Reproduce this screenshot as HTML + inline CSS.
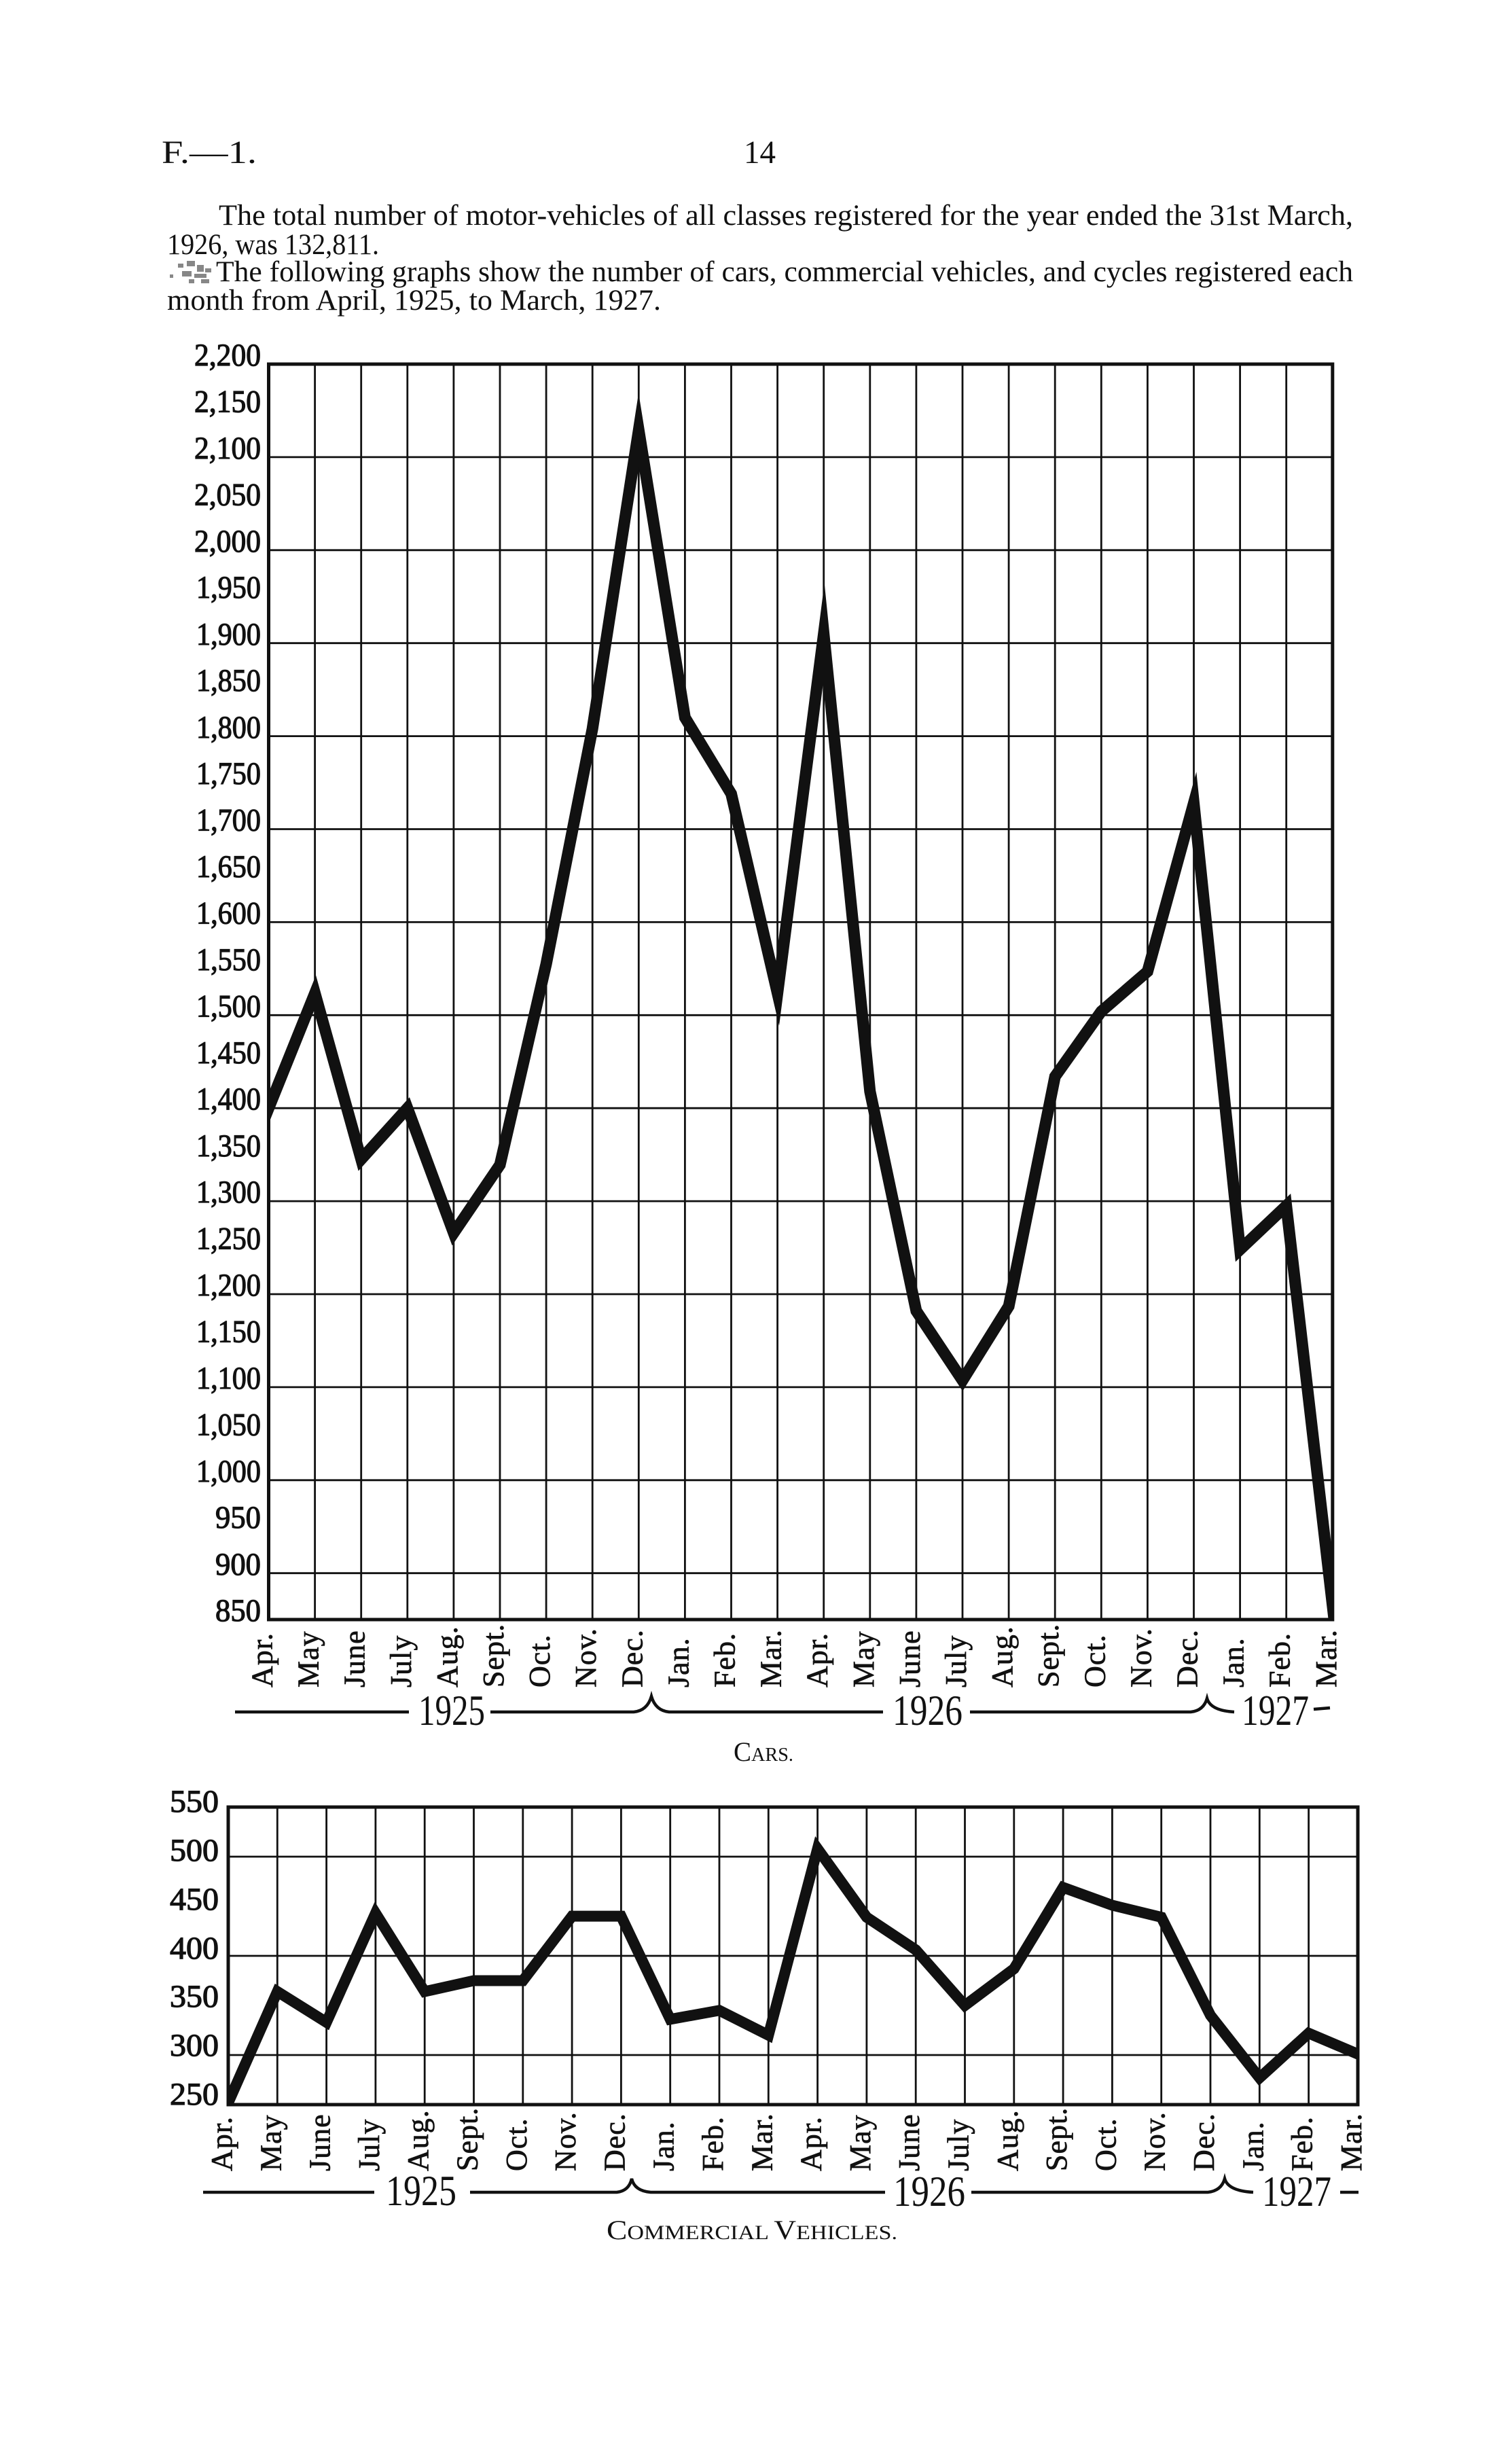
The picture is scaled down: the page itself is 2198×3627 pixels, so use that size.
<!DOCTYPE html>
<html>
<head>
<meta charset="utf-8">
<style>
html,body{margin:0;padding:0;background:#fff;}
svg{display:block;}
text{font-family:"Liberation Serif","DejaVu Serif",serif;fill:#111;}
</style>
</head>
<body>
<svg xmlns="http://www.w3.org/2000/svg" width="2198" height="3627" viewBox="0 0 2198 3627">
<rect x="0" y="0" width="2198" height="3627" fill="#fff"/>
<defs>
<clipPath id="cc"><rect x="395.5" y="536" width="1566.3" height="1848"/></clipPath>
<clipPath id="cv"><rect x="336" y="2660" width="1663" height="438"/></clipPath>
</defs>

<!-- Header -->
<text x="238" y="240" font-size="48" textLength="140" lengthAdjust="spacingAndGlyphs">F.—1.</text>
<text x="1095" y="240" font-size="48" textLength="47" lengthAdjust="spacingAndGlyphs">14</text>

<!-- Paragraph -->
<text x="322" y="331" font-size="43" textLength="1670" lengthAdjust="spacingAndGlyphs">The total number of motor-vehicles of all classes registered for the year ended the 31st March,</text>
<text x="246" y="374" font-size="43" textLength="312" lengthAdjust="spacingAndGlyphs">1926, was 132,811.</text>
<g fill="#555" opacity="0.7">
<rect x="262" y="388" width="8" height="6"/><rect x="275" y="384" width="12" height="8"/><rect x="290" y="390" width="10" height="10"/>
<rect x="268" y="399" width="14" height="8"/><rect x="286" y="403" width="18" height="6"/><rect x="296" y="411" width="12" height="6"/>
<rect x="250" y="404" width="5" height="5"/><rect x="278" y="411" width="8" height="6"/><rect x="302" y="395" width="9" height="6"/>
</g>
<text x="318" y="414" font-size="43" textLength="1674" lengthAdjust="spacingAndGlyphs">The following graphs show the number of cars, commercial vehicles, and cycles registered each</text>
<text x="246" y="456" font-size="43" textLength="727" lengthAdjust="spacingAndGlyphs">month from April, 1925, to March, 1927.</text>

<!-- ================= CARS CHART ================= -->
<g stroke="#111" stroke-width="2.8" fill="none">
<path d="M395.5,672.9H1961.8M395.5,809.8H1961.8M395.5,946.7H1961.8M395.5,1083.6H1961.8M395.5,1220.5H1961.8M395.5,1357.4H1961.8M395.5,1494.3H1961.8M395.5,1631.2H1961.8M395.5,1768.1H1961.8M395.5,1905H1961.8M395.5,2041.9H1961.8M395.5,2178.8H1961.8M395.5,2315.7H1961.8"/>
<path d="M463.6,536V2384M531.7,536V2384M599.8,536V2384M667.9,536V2384M736,536V2384M804.1,536V2384M872.2,536V2384M940.3,536V2384M1008.4,536V2384M1076.5,536V2384M1144.6,536V2384M1212.7,536V2384M1280.8,536V2384M1348.9,536V2384M1417,536V2384M1485.1,536V2384M1553.2,536V2384M1621.3,536V2384M1689.4,536V2384M1757.5,536V2384M1825.6,536V2384M1893.7,536V2384"/>
</g>
<rect x="395.5" y="536" width="1566.3" height="1848" fill="none" stroke="#111" stroke-width="5"/>
<g clip-path="url(#cc)">
<polyline fill="none" stroke="#111" stroke-width="17" stroke-linejoin="miter" stroke-miterlimit="20"
points="380,1670 395.5,1631.2 463.6,1462 531.7,1706.5 599.8,1631.2 667.9,1815 736,1714.7 804.1,1419 872.2,1072.6 940.3,633 1008.4,1056.2 1076.5,1168.5 1144.6,1462 1212.7,933 1280.8,1606.6 1348.9,1929.6 1417,2032 1485.1,1922.8 1553.2,1584.7 1621.3,1488.8 1689.4,1430 1757.5,1182 1825.6,1839.3 1893.7,1774.9 1961.8,2363.6 1975,2477"/>
</g>

<!-- Cars Y labels -->
<g font-size="47" text-anchor="end" stroke="#111" stroke-width="1.2">
<text x="384" y="538" textLength="98" lengthAdjust="spacingAndGlyphs">2,200</text>
<text x="384" y="606.5" textLength="98" lengthAdjust="spacingAndGlyphs">2,150</text>
<text x="384" y="675" textLength="98" lengthAdjust="spacingAndGlyphs">2,100</text>
<text x="384" y="743.5" textLength="98" lengthAdjust="spacingAndGlyphs">2,050</text>
<text x="384" y="812" textLength="98" lengthAdjust="spacingAndGlyphs">2,000</text>
<text x="384" y="880" textLength="95" lengthAdjust="spacingAndGlyphs">1,950</text>
<text x="384" y="949" textLength="95" lengthAdjust="spacingAndGlyphs">1,900</text>
<text x="384" y="1017" textLength="95" lengthAdjust="spacingAndGlyphs">1,850</text>
<text x="384" y="1086" textLength="95" lengthAdjust="spacingAndGlyphs">1,800</text>
<text x="384" y="1154" textLength="95" lengthAdjust="spacingAndGlyphs">1,750</text>
<text x="384" y="1222.5" textLength="95" lengthAdjust="spacingAndGlyphs">1,700</text>
<text x="384" y="1291" textLength="95" lengthAdjust="spacingAndGlyphs">1,650</text>
<text x="384" y="1359.5" textLength="95" lengthAdjust="spacingAndGlyphs">1,600</text>
<text x="384" y="1428" textLength="95" lengthAdjust="spacingAndGlyphs">1,550</text>
<text x="384" y="1496.5" textLength="95" lengthAdjust="spacingAndGlyphs">1,500</text>
<text x="384" y="1565" textLength="95" lengthAdjust="spacingAndGlyphs">1,450</text>
<text x="384" y="1633" textLength="95" lengthAdjust="spacingAndGlyphs">1,400</text>
<text x="384" y="1702" textLength="95" lengthAdjust="spacingAndGlyphs">1,350</text>
<text x="384" y="1770" textLength="95" lengthAdjust="spacingAndGlyphs">1,300</text>
<text x="384" y="1838.5" textLength="95" lengthAdjust="spacingAndGlyphs">1,250</text>
<text x="384" y="1907" textLength="95" lengthAdjust="spacingAndGlyphs">1,200</text>
<text x="384" y="1975.5" textLength="95" lengthAdjust="spacingAndGlyphs">1,150</text>
<text x="384" y="2044" textLength="95" lengthAdjust="spacingAndGlyphs">1,100</text>
<text x="384" y="2112.5" textLength="95" lengthAdjust="spacingAndGlyphs">1,050</text>
<text x="384" y="2181" textLength="95" lengthAdjust="spacingAndGlyphs">1,000</text>
<text x="384" y="2249" textLength="67" lengthAdjust="spacingAndGlyphs">950</text>
<text x="384" y="2318" textLength="67" lengthAdjust="spacingAndGlyphs">900</text>
<text x="384" y="2386" textLength="67" lengthAdjust="spacingAndGlyphs">850</text>
</g>

<!-- Cars month labels -->
<g font-size="44" letter-spacing="1" stroke="#111" stroke-width="0.7">
<text transform="translate(400.5,2484) rotate(-90)">Apr.</text>
<text transform="translate(468.6,2484) rotate(-90)">May</text>
<text transform="translate(536.7,2484) rotate(-90)">June</text>
<text transform="translate(604.8,2484) rotate(-90)">July</text>
<text transform="translate(672.9,2484) rotate(-90)">Aug.</text>
<text transform="translate(741,2484) rotate(-90)">Sept.</text>
<text transform="translate(809.1,2484) rotate(-90)">Oct.</text>
<text transform="translate(877.2,2484) rotate(-90)">Nov.</text>
<text transform="translate(945.3,2484) rotate(-90)">Dec.</text>
<text transform="translate(1013.4,2484) rotate(-90)">Jan.</text>
<text transform="translate(1081.5,2484) rotate(-90)">Feb.</text>
<text transform="translate(1149.6,2484) rotate(-90)">Mar.</text>
<text transform="translate(1217.7,2484) rotate(-90)">Apr.</text>
<text transform="translate(1285.8,2484) rotate(-90)">May</text>
<text transform="translate(1353.9,2484) rotate(-90)">June</text>
<text transform="translate(1422,2484) rotate(-90)">July</text>
<text transform="translate(1490.1,2484) rotate(-90)">Aug.</text>
<text transform="translate(1558.2,2484) rotate(-90)">Sept.</text>
<text transform="translate(1626.3,2484) rotate(-90)">Oct.</text>
<text transform="translate(1694.4,2484) rotate(-90)">Nov.</text>
<text transform="translate(1762.5,2484) rotate(-90)">Dec.</text>
<text transform="translate(1830.6,2484) rotate(-90)">Jan.</text>
<text transform="translate(1898.7,2484) rotate(-90)">Feb.</text>
<text transform="translate(1966.8,2484) rotate(-90)">Mar.</text>
</g>

<!-- Cars year braces -->
<g fill="none" stroke="#111" stroke-width="4.5">
<path d="M346,2520 L602,2520"/>
<path d="M722,2520 L933,2520 Q953,2518 959,2497 Q965,2518 985,2520 L1300,2520"/>
<path d="M1428,2520 L1753,2520 Q1772,2518 1777,2500 Q1782,2518 1817,2520"/>
<path d="M1934,2516 L1958,2514"/>
</g>
<g font-size="64">
<text x="616" y="2539" textLength="98" lengthAdjust="spacingAndGlyphs">1925</text>
<text x="1314" y="2539" textLength="103" lengthAdjust="spacingAndGlyphs">1926</text>
<text x="1828" y="2539" textLength="99" lengthAdjust="spacingAndGlyphs">1927</text>
</g>
<text x="1080" y="2592" textLength="88" lengthAdjust="spacingAndGlyphs"><tspan font-size="40">C</tspan><tspan font-size="29">ARS.</tspan></text>

<!-- ================= COMMERCIAL VEHICLES CHART ================= -->
<g stroke="#111" stroke-width="2.8" fill="none">
<path d="M336,2733H1999M336,2879H1999M336,3025H1999"/>
<path d="M408.3,2660V3098M480.6,2660V3098M552.9,2660V3098M625.2,2660V3098M697.5,2660V3098M769.8,2660V3098M842.1,2660V3098M914.4,2660V3098M986.7,2660V3098M1059,2660V3098M1131.3,2660V3098M1203.6,2660V3098M1275.9,2660V3098M1348.2,2660V3098M1420.5,2660V3098M1492.8,2660V3098M1565.1,2660V3098M1637.4,2660V3098M1709.7,2660V3098M1782,2660V3098M1854.3,2660V3098M1926.6,2660V3098"/>
</g>
<rect x="336" y="2660" width="1663" height="438" fill="none" stroke="#111" stroke-width="5"/>
<g clip-path="url(#cv)">
<polyline fill="none" stroke="#111" stroke-width="16" stroke-linejoin="miter" stroke-miterlimit="20"
points="320,3131 336,3095.1 408.3,2931.6 480.6,2976.8 552.9,2816.2 625.2,2931.6 697.5,2915.5 769.8,2915.5 842.1,2820.6 914.4,2820.6 986.7,2972.4 1059,2959.3 1131.3,2995.8 1203.6,2721.3 1275.9,2822.1 1348.2,2870.2 1420.5,2952 1492.8,2898 1565.1,2778.3 1637.4,2804.5 1709.7,2822.1 1782,2966.6 1854.3,3058.6 1926.6,2992.9 1998.9,3023.5 2015,3030.3"/>
</g>

<!-- Commercial Y labels -->
<g font-size="47" text-anchor="end" stroke="#111" stroke-width="1.2">
<text x="322" y="2667" textLength="72" lengthAdjust="spacingAndGlyphs">550</text>
<text x="322" y="2739" textLength="72" lengthAdjust="spacingAndGlyphs">500</text>
<text x="322" y="2811" textLength="72" lengthAdjust="spacingAndGlyphs">450</text>
<text x="322" y="2883" textLength="72" lengthAdjust="spacingAndGlyphs">400</text>
<text x="322" y="2954" textLength="72" lengthAdjust="spacingAndGlyphs">350</text>
<text x="322" y="3026" textLength="72" lengthAdjust="spacingAndGlyphs">300</text>
<text x="322" y="3098" textLength="72" lengthAdjust="spacingAndGlyphs">250</text>
</g>

<!-- Commercial month labels -->
<g font-size="44" letter-spacing="1" stroke="#111" stroke-width="0.7">
<text transform="translate(341,3196) rotate(-90)">Apr.</text>
<text transform="translate(413.3,3196) rotate(-90)">May</text>
<text transform="translate(485.6,3196) rotate(-90)">June</text>
<text transform="translate(557.9,3196) rotate(-90)">July</text>
<text transform="translate(630.2,3196) rotate(-90)">Aug.</text>
<text transform="translate(702.5,3196) rotate(-90)">Sept.</text>
<text transform="translate(774.8,3196) rotate(-90)">Oct.</text>
<text transform="translate(847.1,3196) rotate(-90)">Nov.</text>
<text transform="translate(919.4,3196) rotate(-90)">Dec.</text>
<text transform="translate(991.7,3196) rotate(-90)">Jan.</text>
<text transform="translate(1064,3196) rotate(-90)">Feb.</text>
<text transform="translate(1136.3,3196) rotate(-90)">Mar.</text>
<text transform="translate(1208.6,3196) rotate(-90)">Apr.</text>
<text transform="translate(1280.9,3196) rotate(-90)">May</text>
<text transform="translate(1353.2,3196) rotate(-90)">June</text>
<text transform="translate(1425.5,3196) rotate(-90)">July</text>
<text transform="translate(1497.8,3196) rotate(-90)">Aug.</text>
<text transform="translate(1570.1,3196) rotate(-90)">Sept.</text>
<text transform="translate(1642.4,3196) rotate(-90)">Oct.</text>
<text transform="translate(1714.7,3196) rotate(-90)">Nov.</text>
<text transform="translate(1787,3196) rotate(-90)">Dec.</text>
<text transform="translate(1859.3,3196) rotate(-90)">Jan.</text>
<text transform="translate(1931.6,3196) rotate(-90)">Feb.</text>
<text transform="translate(2003.9,3196) rotate(-90)">Mar.</text>
</g>

<!-- Commercial year braces -->
<g fill="none" stroke="#111" stroke-width="4.5">
<path d="M299,3227 L551,3227"/>
<path d="M692,3227 L908,3227 Q926,3225 930,3207 Q934,3225 958,3227 L1303,3227"/>
<path d="M1430,3227 L1778,3227 Q1798,3225 1803,3207 Q1808,3225 1845,3227"/>
<path d="M1973,3227 L2000,3227"/>
</g>
<g font-size="64">
<text x="568" y="3246" textLength="104" lengthAdjust="spacingAndGlyphs">1925</text>
<text x="1315" y="3247" textLength="106" lengthAdjust="spacingAndGlyphs">1926</text>
<text x="1858" y="3247" textLength="102" lengthAdjust="spacingAndGlyphs">1927</text>
</g>
<text x="893" y="3296" textLength="428" lengthAdjust="spacingAndGlyphs"><tspan font-size="40">C</tspan><tspan font-size="30">OMMERCIAL </tspan><tspan font-size="40">V</tspan><tspan font-size="30">EHICLES.</tspan></text>
</svg>
</body>
</html>
